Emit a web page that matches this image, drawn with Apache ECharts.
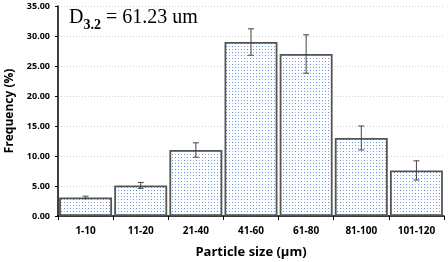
<!DOCTYPE html>
<html>
<head>
<meta charset="utf-8">
<script src="https://cdn.jsdelivr.net/npm/echarts@6/dist/echarts.min.js"></script>
<style>
  html, body { margin: 0; padding: 0; background: #fff; }
  #chart { width: 448px; height: 262px; }
</style>
</head>
<body>
<div id="chart"></div>
<script>
let categories = ['1-10', '11-20', '21-40', '41-60', '61-80', '81-100', '101-120'];
let frequency = [3.1, 5.1, 11.0, 29.0, 27.0, 13.0, 7.6];
let errors = [0.2, 0.5, 1.2, 2.2, 3.2, 2.0, 1.6];
let yTicks = [0, 5, 10, 15, 20, 25, 30, 35];

let chart = echarts.init(document.getElementById('chart'));

// dotted fill, like the office pattern
let pat = document.createElement('canvas');
pat.width = 6;
pat.height = 6;
let ctx = pat.getContext('2d');
ctx.fillStyle = '#ffffff';
ctx.fillRect(0, 0, 6, 6);
ctx.fillStyle = '#5b84c8';
ctx.fillRect(1, 1, 1, 1);
ctx.fillRect(4, 4, 1, 1);
ctx.fillStyle = '#9fb8e2';
ctx.fillRect(4, 1, 1, 1);
ctx.fillRect(1, 4, 1, 1);

let errData = frequency.map((v, i) => [i, v - errors[i], v + errors[i]]);

let option = {
  animation: false,
  grid: { left: 58, right: 4, top: 6, bottom: 46, outerBoundsMode: 'none' },
  xAxis: {
    type: 'category',
    data: categories,
    axisLine: { lineStyle: { color: '#000', width: 1.5 } },
    axisTick: { show: true, length: 4, lineStyle: { color: '#000' } },
    axisLabel: { color: '#000', fontWeight: 'bold', fontSize: 10, fontFamily: 'Open Sans', margin: 10 },
    name: 'Particle size (\u00b5m)',
    nameLocation: 'middle',
    nameGap: 30,
    nameTextStyle: { color: '#000', fontWeight: 'bold', fontSize: 13, fontFamily: 'Open Sans' }
  },
  yAxis: {
    type: 'value',
    min: yTicks[0],
    max: yTicks[yTicks.length - 1],
    interval: 5,
    axisLine: { show: true, lineStyle: { color: '#000', width: 1.5 } },
    axisTick: { show: true, length: 3, lineStyle: { color: '#000' } },
    splitLine: { lineStyle: { color: '#d0d0d0', type: [1, 2] } },
    axisLabel: {
      color: '#000', fontWeight: 'bold', fontSize: 9, fontFamily: 'Open Sans', margin: 8,
      formatter: v => v.toFixed(2)
    },
    name: 'Frequency (%)',
    nameLocation: 'middle',
    nameGap: 42,
    nameRotate: 90,
    nameTextStyle: { color: '#000', fontWeight: 'bold', fontSize: 12, fontFamily: 'Open Sans' }
  },
  graphic: [{
    type: 'text',
    left: 69,
    top: 8,
    style: {
      text: '{d|D}{s|3.2}{d| = 61.23 um}',
      rich: {
        d: { fontFamily: 'Liberation Serif', fontSize: 20, fill: '#000' },
        s: { fontFamily: 'Liberation Serif', fontSize: 14, fontWeight: 'bold', fill: '#000', padding: [14, 0, 0, 0] }
      }
    }
  }],
  series: [
    {
      name: 'Frequency',
      type: 'bar',
      data: frequency,
      barCategoryGap: '4%',
      itemStyle: { color: { image: pat, repeat: 'repeat' }, borderColor: '#555', borderWidth: 1.8 }
    },
    {
      name: 'Error',
      type: 'custom',
      data: errData,
      z: 10,
      renderItem: (params, api) => {
        let x = api.coord([api.value(0), 0])[0];
        let lo = api.coord([api.value(0), api.value(1)])[1];
        let hi = api.coord([api.value(0), api.value(2)])[1];
        let w = 3;
        let style = { stroke: '#444', lineWidth: 1 };
        return {
          type: 'group',
          children: [
            { type: 'line', shape: { x1: x, y1: lo, x2: x, y2: hi }, style },
            { type: 'line', shape: { x1: x - w, y1: lo, x2: x + w, y2: lo }, style },
            { type: 'line', shape: { x1: x - w, y1: hi, x2: x + w, y2: hi }, style }
          ]
        };
      }
    }
  ]
};

chart.setOption(option);
</script>
</body>
</html>
